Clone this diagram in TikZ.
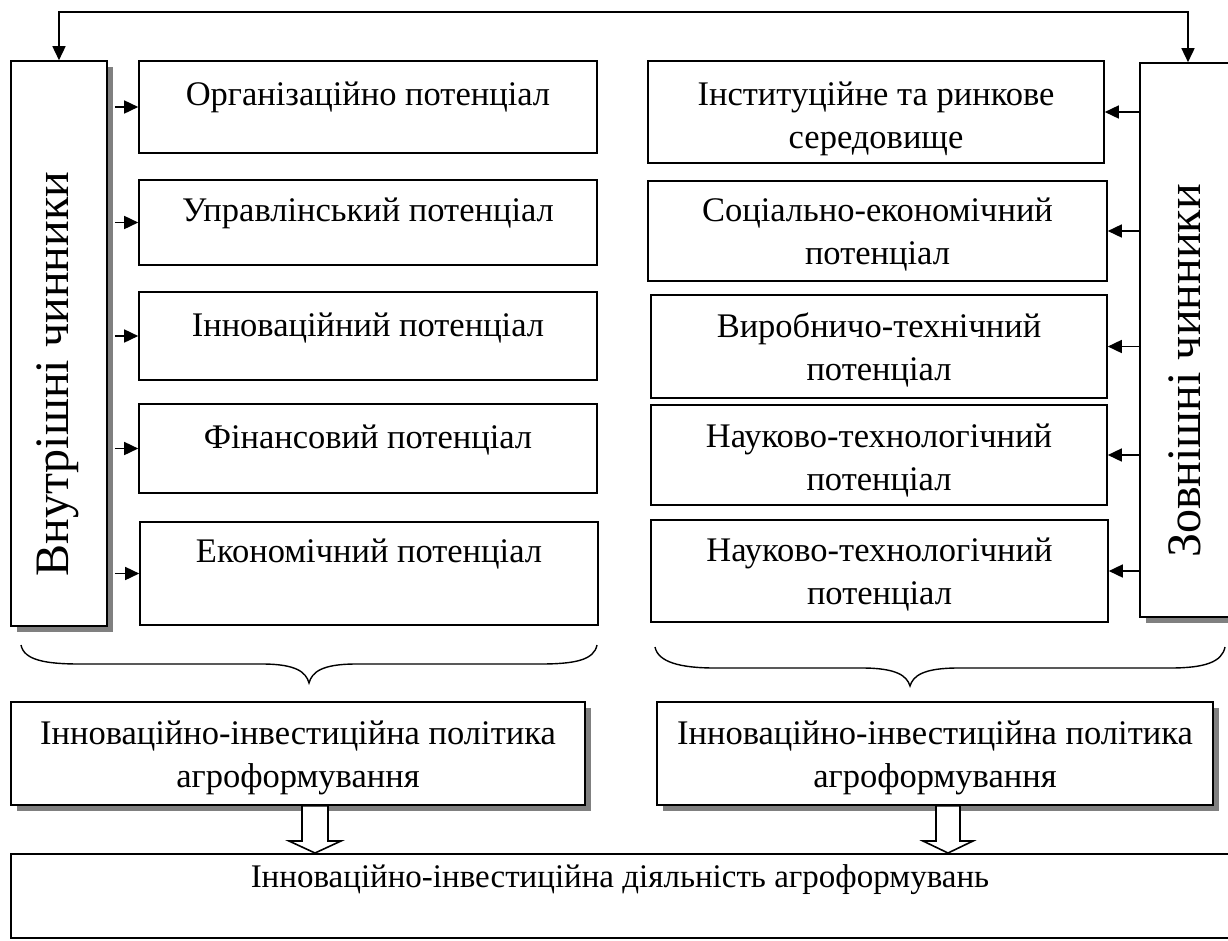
\documentclass[tikz,border=0pt]{standalone}
\usepackage{fontspec}
\setmainfont{Liberation Serif}
\usetikzlibrary{arrows.meta,shadows,calc}

\tikzset{
  box/.style={draw, line width=1.6pt, fill=white, inner sep=0pt},
  shbox/.style={box, drop shadow={shadow xshift=6pt, shadow yshift=-6pt, fill=black!50, opacity=1}},
  txt/.style={font=\fontsize{34.5}{43}\selectfont, align=center, inner sep=0pt},
  vtxt/.style={font=\fontsize{48}{54}\selectfont, rotate=90, inner sep=0pt},
  arr/.style={line width=1.6pt, -{Triangle[length=14pt,width=13pt]}},
  twoarr/.style={line width=1.6pt, {Triangle[length=14pt,width=13pt]}-{Triangle[length=14pt,width=13pt]}},
  brace/.style={line width=1.4pt},
  blockarrow/.style={draw, line width=1.6pt, fill=white, line join=miter}
}

\begin{document}
\begin{tikzpicture}[x=1pt, y=-1pt]
\useasboundingbox (0,0) rectangle (1228,940);

% inner and outer factor columns
\node[shbox, minimum width=96pt, minimum height=565pt] (inner) at (59,343.5) {};
\node[vtxt] (innerT) at (58,374) {Внутрішні чинники};
\node[shbox, minimum width=96pt, minimum height=554pt] (outer) at (1188,340) {};
\node[vtxt] (outerT) at (1185,371) {Зовнішні чинники};

% internal potentials
\node[box, minimum width=458pt, minimum height=92pt]  (b1) at (368,107)   {};
\node[txt] (b1t) at (368,97)  {Організаційно потенціал};
\node[box, minimum width=458pt, minimum height=85pt]  (b2) at (368,222.5) {};
\node[txt] (b2t) at (368,213) {Управлінський потенціал};
\node[box, minimum width=458pt, minimum height=88pt]  (b3) at (368,336)   {};
\node[txt] (b3t) at (368,328) {Інноваційний потенціал};
\node[box, minimum width=458pt, minimum height=89pt]  (b4) at (368,448.5) {};
\node[txt] (b4t) at (368,440) {Фінансовий потенціал};
\node[box, minimum width=458pt, minimum height=103pt] (b5) at (369,573.5) {};
\node[txt] (b5t) at (369,554) {Економічний потенціал};

% external potentials
\node[box, minimum width=456pt, minimum height=102pt] (r1) at (876,112)   {};
\node[txt] (r1t) at (876,118.5) {Інституційне та ринкове\\середовище};
\node[box, minimum width=459pt, minimum height=100pt] (r2) at (877.5,231) {};
\node[txt] (r2t) at (877.5,235) {Соціально-економічний\\потенціал};
\node[box, minimum width=456pt, minimum height=103pt] (r3) at (879,346.5) {};
\node[txt] (r3t) at (879,350) {Виробничо-технічний\\потенціал};
\node[box, minimum width=456pt, minimum height=100pt] (r4) at (879,455)   {};
\node[txt] (r4t) at (879,460.5) {Науково-технологічний\\потенціал};
\node[box, minimum width=457pt, minimum height=102pt] (r5) at (879.5,571) {};
\node[txt] (r5t) at (879.5,575) {Науково-технологічний\\потенціал};

% feedback line over the top
\draw[twoarr] (inner.north) -- ++(0,-48) -| (outer.north);

% factor arrows
\foreach \b in {b1,b2,b3,b4,b5}
  \draw[arr] ($(inner.east |- \b.west)+(7,0)$) -- (\b.west);
\foreach \r in {r1,r2,r3,r4,r5}
  \draw[arr] (outer.west |- \r.east) -- (\r.east);

% braces
\draw[brace] (21,645) .. controls (24,660) and (45,664) .. (80,664)
  -- (262,664) .. controls (296,664) and (306,672) .. (309,683)
  .. controls (312,672) and (322,664) .. (356,664)
  -- (540,664) .. controls (575,664) and (594,660) .. (597,645);
\draw[brace] (655,647) .. controls (658,662) and (680,668) .. (715,668)
  -- (862,668) .. controls (897,668) and (907,676) .. (910,686)
  .. controls (913,676) and (923,668) .. (958,668)
  -- (1170,668) .. controls (1205,668) and (1222,662) .. (1225,647);

% policy boxes
\node[shbox, minimum width=574pt, minimum height=103pt] (lp) at (298,753.5) {};
\node[txt] (lpt) at (298,757.5) {Інноваційно-інвестиційна політика\\агроформування};
\node[shbox, minimum width=556pt, minimum height=103pt] (rp) at (935,753.5) {};
\node[txt] (rpt) at (935,757.5) {Інноваційно-інвестиційна політика\\агроформування};

% resulting activity
\node[box, line width=2pt, minimum width=1229pt, minimum height=84pt] (act) at (625.5,896) {};
\node[txt, font=\fontsize{33}{43}\selectfont] (actt) at (620,880) {Інноваційно-інвестиційна діяльність агроформувань};

% hollow block arrows
\coordinate (la) at (315,0);
\coordinate (ra) at (948,0);
\draw[blockarrow] ($(la |- lp.south)+(-13,0)$) -- ($(la |- lp.south)+(13,0)$)
  -- ($(la |- act.north)+(13,-12)$) -- ($(la |- act.north)+(26,-12)$)
  -- (la |- act.north) -- ($(la |- act.north)+(-26,-12)$)
  -- ($(la |- act.north)+(-13,-12)$) -- cycle;
\draw[blockarrow] ($(ra |- rp.south)+(-12,0)$) -- ($(ra |- rp.south)+(12,0)$)
  -- ($(ra |- act.north)+(12,-12)$) -- ($(ra |- act.north)+(25,-12)$)
  -- (ra |- act.north) -- ($(ra |- act.north)+(-25,-12)$)
  -- ($(ra |- act.north)+(-12,-12)$) -- cycle;
\end{tikzpicture}
\end{document}
